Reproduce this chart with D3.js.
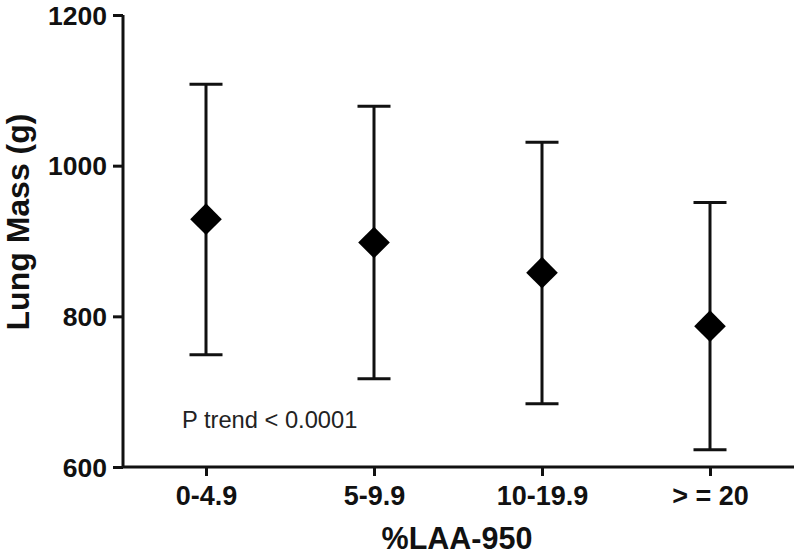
<!DOCTYPE html>
<html>
<head>
<meta charset="utf-8">
<script src="https://cdn.jsdelivr.net/npm/d3@7"></script>
<style>
  html, body { margin: 0; padding: 0; background: #fff; }
  svg { display: block; }
</style>
</head>
<body>
<svg id="chart" width="800" height="555"></svg>
<script>
const categories = ["0-4.9", "5-9.9", "10-19.9", "> = 20"];
const means = [929, 898, 858, 787];
const upper = [1108, 1079, 1031, 951];
const lower = [749, 717, 684, 623];
const yTicks = [600, 800, 1000, 1200];
const yTitle = "Lung Mass (g)";
const xTitle = "%LAA-950";
const annotation = "P trend < 0.0001";

const svg = d3.select("#chart");
const font = "'Liberation Sans', Arial, Helvetica, sans-serif";

const x = d3.scalePoint().domain(categories).range([122, 794]).padding(0.5);
const y = d3.scaleLinear().domain([600, 1200]).range([467, 15]);

// Y axis
const yAxis = svg.append("g")
  .attr("transform", "translate(123,0)")
  .call(d3.axisLeft(y).tickValues(yTicks).tickSize(10).tickPadding(6).tickFormat(d3.format("d")));
yAxis.select(".domain").attr("stroke", "#111").attr("stroke-width", 3)
  .attr("d", `M0,${y(1200)}V${y(600)}`);
yAxis.selectAll(".tick line").attr("stroke", "#111").attr("stroke-width", 3);
yAxis.selectAll(".tick text").attr("font-family", font).attr("font-weight", "bold")
  .attr("font-size", 26.5).attr("fill", "#111").attr("dy", "0.35em");

// X axis
const xAxis = svg.append("g")
  .attr("transform", `translate(0,${y(600)})`)
  .call(d3.axisBottom(x).tickSize(9).tickPadding(10));
xAxis.select(".domain").attr("stroke", "#111").attr("stroke-width", 3)
  .attr("d", "M122,0H794");
xAxis.selectAll(".tick line").attr("stroke", "#111").attr("stroke-width", 3);
xAxis.selectAll(".tick text").attr("font-family", font).attr("font-weight", "bold")
  .attr("font-size", 27).attr("fill", "#111");

// Error bars
const data = categories.map((c, i) => ({c, m: means[i], u: upper[i], l: lower[i]}));
const capHalf = 16.5;
const g = svg.append("g");
g.selectAll("line.v").data(data).join("line").attr("class", "v")
  .attr("x1", d => x(d.c)).attr("x2", d => x(d.c))
  .attr("y1", d => y(d.u)).attr("y2", d => y(d.l))
  .attr("stroke", "#111").attr("stroke-width", 3);
g.selectAll("line.cu").data(data).join("line").attr("class", "cu")
  .attr("x1", d => x(d.c) - capHalf).attr("x2", d => x(d.c) + capHalf)
  .attr("y1", d => y(d.u)).attr("y2", d => y(d.u))
  .attr("stroke", "#111").attr("stroke-width", 3);
g.selectAll("line.cl").data(data).join("line").attr("class", "cl")
  .attr("x1", d => x(d.c) - capHalf).attr("x2", d => x(d.c) + capHalf)
  .attr("y1", d => y(d.l)).attr("y2", d => y(d.l))
  .attr("stroke", "#111").attr("stroke-width", 3);

// Diamonds
const diamond = d3.symbol().type(d3.symbolSquare).size(500);
g.selectAll("path.pt").data(data).join("path").attr("class", "pt")
  .attr("d", diamond)
  .attr("transform", d => `translate(${x(d.c)},${y(d.m)}) rotate(45)`)
  .attr("fill", "#000");

// Titles
svg.append("text")
  .attr("transform", "translate(29,222) rotate(-90)")
  .attr("text-anchor", "middle")
  .attr("font-family", font).attr("font-weight", "bold").attr("font-size", 32)
  .attr("fill", "#111").text(yTitle);

svg.append("text")
  .attr("x", 457).attr("y", 549)
  .attr("text-anchor", "middle")
  .attr("font-family", font).attr("font-weight", "bold").attr("font-size", 30.5)
  .attr("fill", "#111").text(xTitle);

svg.append("text")
  .attr("x", 182).attr("y", 428)
  .attr("font-family", font).attr("font-size", 23.7)
  .attr("fill", "#222").text(annotation);
</script>
</body>
</html>
